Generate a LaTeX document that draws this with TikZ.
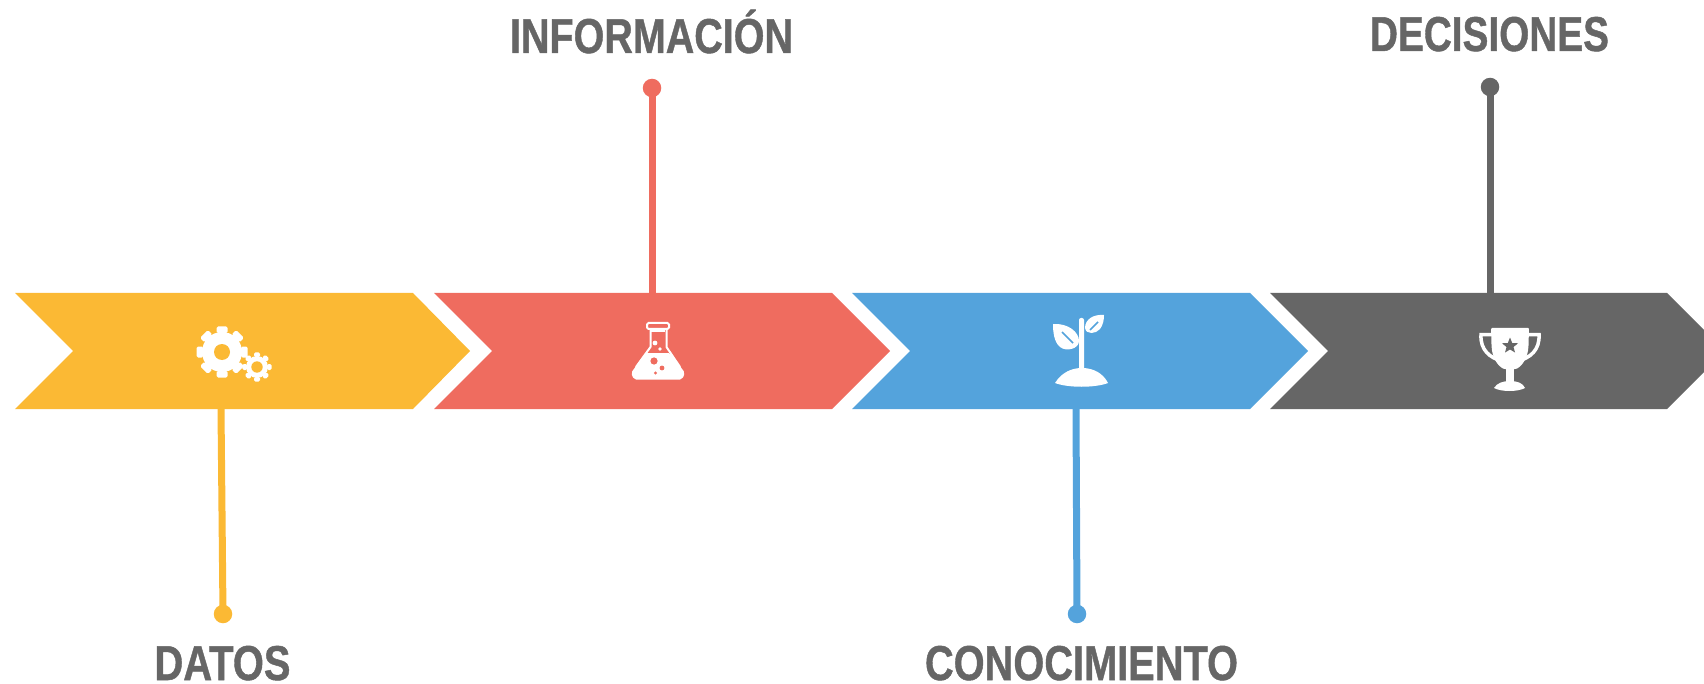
\documentclass[tikz,border=0pt]{standalone}
\usepackage{fontspec}
\setmainfont[FakeBold=1.0]{Liberation Sans}
\definecolor{cy}{HTML}{FBB934}
\definecolor{cr}{HTML}{EF6C5F}
\definecolor{cb}{HTML}{54A3DC}
\definecolor{cg}{HTML}{666666}
\newsavebox{\fitbox}
\newcommand{\fitw}[2]{\sbox{\fitbox}{#2}\pgfmathsetmacro{\fitf}{#1/\wd\fitbox}\scalebox{\fitf}[1]{\usebox{\fitbox}}}
\tikzset{
 lab/.style={text=cg,font=\fontsize{49}{49}\selectfont\bfseries,inner sep=0pt,anchor=base},
 stem/.style={line width=7pt},
 dot/.style={circle,inner sep=0pt,minimum size=18.5pt}
}
\begin{document}
\begin{tikzpicture}[x=1pt,y=-1pt]
\useasboundingbox (0,0) rectangle (1704,684);
\begin{scope}
\clip (0,0) rectangle (1704,684);
\fill[cy] (15,293)--(413,293)--(470,351)--(413,409)--(15,409)--(73,351)--cycle;
\fill[cr] (434,293)--(832,293)--(890,351)--(832,409)--(434,409)--(492,351)--cycle;
\fill[cb] (852,293)--(1250,293)--(1308,351)--(1250,409)--(852,409)--(910,351)--cycle;
\fill[cg] (1270,293)--(1667,293)--(1725,351)--(1667,409)--(1270,409)--(1328,351)--cycle;
\end{scope}
\coordinate (a1) at (221,409); \coordinate (a2) at (652,293);
\coordinate (a3) at (1076,409); \coordinate (a4) at (1490,293);
\node[dot,fill=cy] (d1) at (223,614) {};
\node[dot,fill=cr] (d2) at (652,88) {};
\node[dot,fill=cb] (d3) at (1077,614) {};
\node[dot,fill=cg] (d4) at (1490,87) {};
\draw[stem,cy] (a1)--(d1.center);
\draw[stem,cr] (a2)--(d2.center);
\draw[stem,cb] (a3)--(d3.center);
\draw[stem,cg] (a4)--(d4.center);
\node[lab] (t1) at (222.5,680) {\fitw{136}{DATOS}};
\node[lab] (t2) at (651.5,53) {\fitw{283}{INFORMACIÓN}};
\node[lab] (t3) at (1081.5,680) {\fitw{313}{CONOCIMIENTO}};
\node[lab] (t4) at (1489.5,51) {\fitw{239}{DECISIONES}};
% gears
\foreach \c/\d/\R/\rr/\w in {222/352/25.5/20/5.5,257/367/14.6/11/3}{
 \fill[white] (\c,\d) circle[radius=\rr];
 \foreach \a in {0,45,...,315}
  \fill[white,rounded corners=1.5pt,rotate around={\a:(\c,\d)}] (\c-\w,\d-\rr+1) rectangle (\c+\w,\d-\R);
}
\fill[cy] (222,352) circle[radius=8];
\fill[cy] (257,367) circle[radius=5.7];
% flask
\draw[white,line width=2pt,rounded corners=1.5pt] (647,323) rectangle (669,329);
\draw[white,line width=2pt,line join=round] (650.5,329)--(650.5,347)--(636,367);
\draw[white,line width=2pt,line join=round] (666.5,329)--(666.5,347)--(680,367);
\fill[white] (651,330) rectangle (665,331.6);
\fill[white,rounded corners=2pt] (645.5,353)--(670.5,353)--(685,373)--(682,379.5)--(634,379.5)--(631,373)--cycle;
\fill[white] (655,343) circle[radius=2.4];
\fill[white] (660,349) circle[radius=1.9];
\fill[cr] (654,361) circle[radius=3.6];
\fill[cr] (662,368) circle[radius=2.4];
\fill[cr] (655.5,373) circle[radius=1.6];
% plant
\fill[white,rounded corners=2pt] (1079,318) rectangle (1084,372);
\fill[white] (1055,383) .. controls (1062,372) and (1072,368) .. (1082,368) .. controls (1093,368) and (1103,373) .. (1108,383) .. controls (1095,388) and (1068,388) .. (1055,383) -- cycle;
\fill[white] (1053,324) .. controls (1068,323) and (1079,332) .. (1079,341) .. controls (1079,349) and (1066,352) .. (1060,347) .. controls (1054,342) and (1053,332) .. (1053,324) -- cycle;
\draw[cb,line width=1.6pt] (1062,332) -- (1073,343);
\fill[white] (1104,315) .. controls (1094,314) and (1085,319) .. (1085,328) .. controls (1086,335) and (1096,334) .. (1100,329) .. controls (1103,325) and (1104,320) .. (1104,315) -- cycle;
\draw[cb,line width=1.6pt] (1098,322) -- (1090,330);
% trophy
\draw[white,line width=3.5pt] (1492,334.5) -- (1481,334.5) .. controls (1480,350) and (1490,358) .. (1502,361);
\draw[white,line width=3.5pt] (1528,334.5) -- (1539,334.5) .. controls (1540,350) and (1530,358) .. (1518,361);
\fill[white,rounded corners=1pt] (1491,328) -- (1529,328) -- (1528.5,345) .. controls (1528,358) and (1522,366) .. (1516,369) -- (1504,369) .. controls (1498,366) and (1492,358) .. (1491.5,345) -- cycle;
\fill[white] (1506,368) rectangle (1514,382);
\fill[white] (1494,388) .. controls (1497,383) and (1503,381) .. (1510,381) .. controls (1517,381) and (1523,383) .. (1525,388) .. controls (1518,392) and (1501,392) .. (1494,388) -- cycle;
\fill[cg] (1510,337.5) -- (1512.2,343) -- (1518,343.3) -- (1513.5,347) -- (1515,352.5) -- (1510,349.5) -- (1505,352.5) -- (1506.5,347) -- (1502,343.3) -- (1507.8,343) -- cycle;
\end{tikzpicture}
\end{document}
